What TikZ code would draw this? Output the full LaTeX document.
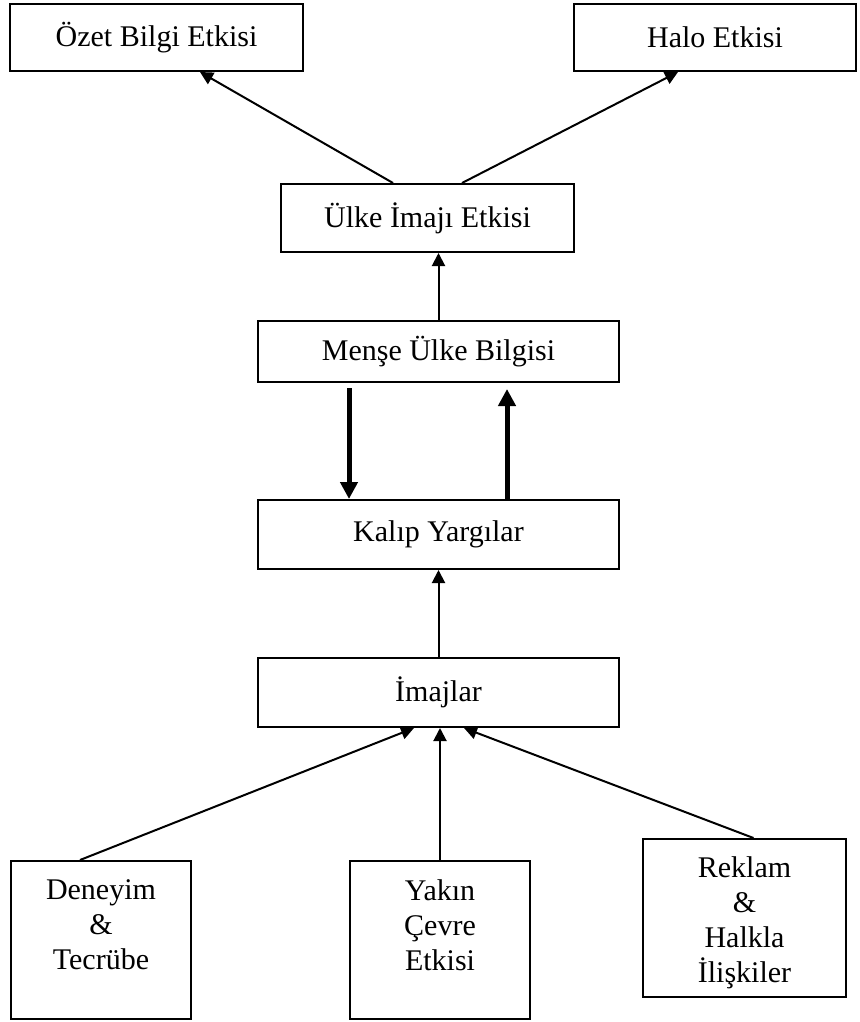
\documentclass[tikz,border=0pt]{standalone}
\usepackage{fontspec}
\setmainfont{Liberation Serif}
\usetikzlibrary{arrows.meta,calc}
\begin{document}
\begin{tikzpicture}[x=1pt,y=-1pt,
  box/.style={draw=black,line width=2pt,inner sep=0pt,minimum width=#1},
  lbl/.style={inner sep=0pt,align=center,anchor=north},
  conn/.style={line width=2pt,-{Triangle[length=13pt,width=13pt]}},
  thickconn/.style={line width=5pt,-{Triangle[length=17pt,width=17pt]}},
  every node/.append style={font=\fontsize{30}{35}\selectfont}]
\useasboundingbox (0,0) rectangle (859,1022);
\node[box=293pt,minimum height=67pt] (oz) at (156.5,37.5) {Özet Bilgi Etkisi};
\node[box=282pt,minimum height=67pt] (halo) at (715,37.5) {Halo Etkisi};
\node[box=293pt,minimum height=68pt] (ulke) at (427.5,218) {Ülke İmajı Etkisi};
\node[box=361pt,minimum height=61pt] (mense) at (438.5,351.5) {Menşe Ülke Bilgisi};
\node[box=361pt,minimum height=69pt] (kalip) at (438.5,534.5) {Kalıp Yargılar};
\node[box=361pt,minimum height=69pt] (imaj) at (438.5,692.5) {İmajlar};
\node[box=180pt,minimum height=158pt] (den) at (101,940) {};
\node[box=180pt,minimum height=158pt] (yak) at (440,940) {};
\node[box=203pt,minimum height=158pt] (rek) at (744.5,918) {};
\node[lbl] (dent) at ([yshift=-19pt]den.north) {Deneyim\\\&\\Tecrübe};
\node[lbl] (yakt) at ([yshift=-19pt]yak.north) {Yakın\\Çevre\\Etkisi};
\node[lbl] (rekt) at ([yshift=-18pt]rek.north) {Reklam\\\&\\Halkla\\İlişkiler};
\draw[conn] ([xshift=-34.5pt]ulke.north) -- ([xshift=43.5pt]oz.south);
\draw[conn] ([xshift=34.5pt]ulke.north) -- ([xshift=-37pt]halo.south);
\draw[conn] (mense.north) -- (mense.north |- ulke.south);
\draw[thickconn] ([xshift=-89.5pt,yshift=-5pt]mense.south) -- ([xshift=-89.5pt]kalip.north);
\draw[thickconn] ([xshift=68.5pt]kalip.north) -- ([xshift=68.5pt,yshift=-6pt]mense.south);
\draw[conn] (imaj.north) -- (kalip.south);
\draw[conn] ([xshift=-21pt]den.north) -- ([xshift=-24.5pt]imaj.south);
\draw[conn] (yak.north) -- (yak.north |- imaj.south);
\draw[conn] ([xshift=9pt]rek.north) -- ([xshift=25.5pt]imaj.south);
\end{tikzpicture}
\end{document}
